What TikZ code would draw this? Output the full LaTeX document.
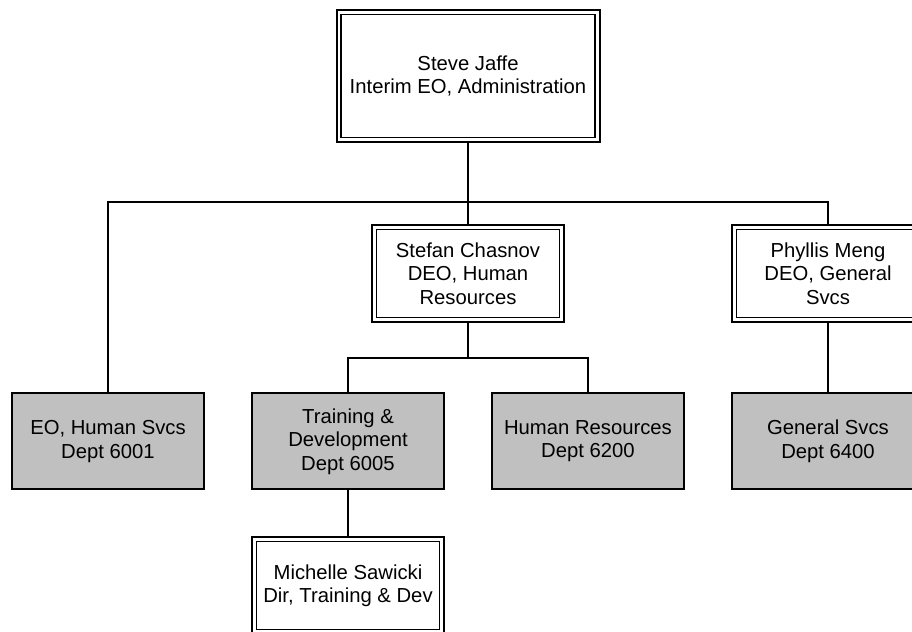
\documentclass[tikz,border=0pt]{standalone}
\usepackage{fontspec}
\setmainfont{Liberation Sans}
\usetikzlibrary{backgrounds}
\definecolor{boxgray}{HTML}{C0C0C0}
\tikzset{
  px/.style={x=0.75pt,y=-0.75pt},
  txt/.style={align=center,font=\fontsize{15.2}{17.6}\selectfont,inner sep=0pt},
  graybox/.style={txt,draw=black,fill=boxgray,line width=1.5pt,minimum width=144pt,minimum height=72pt},
  dbox/.style={txt,draw=black,fill=white,line width=1.5pt,minimum width=144pt,minimum height=72.75pt,
    path picture={\draw[line width=1pt] ([shift={(3.4pt,-3.4pt)}]path picture bounding box.north west) rectangle ([shift={(-3.4pt,3.4pt)}]path picture bounding box.south east);}},
  conn/.style={draw=black,line width=1.3pt}
}
\begin{document}
\begin{tikzpicture}[px]
\useasboundingbox (0,0) rectangle (912,631);
\node[dbox,minimum width=197.25pt,minimum height=99pt] (top) at (468,76) {Steve Jaffe\\Interim EO, Administration};
\node[dbox] (stefan) at (468,273.5) {Stefan Chasnov\\DEO, Human\\Resources};
\node[dbox] (phyllis) at (828,273.5) {Phyllis Meng\\DEO, General\\Svcs};
\node[graybox] (eo) at (108,441.3) {EO, Human Svcs\\Dept 6001};
\node[graybox] (training) at (348,441.3) {Training \&\\Development\\Dept 6005};
\node[graybox] (hr) at (588,441.3) {Human Resources\\Dept 6200};
\node[graybox] (general) at (828,441.3) {General Svcs\\Dept 6400};
\node[dbox] (michelle) at (348,585.5) {Michelle Sawicki\\Dir, Training \& Dev};
\coordinate (bus) at (468,202);
\coordinate (bus2) at (468,358);
\begin{scope}[on background layer]
\draw[conn] (top.south) -- (stefan.north);
\draw[conn] (eo.north) |- (bus) -| (phyllis.north);
\draw[conn] (stefan.south) -- (bus2);
\draw[conn] (training.north) |- (bus2) -| (hr.north);
\draw[conn] (phyllis.south) -- (general.north);
\draw[conn] (training.south) -- (michelle.north);
\end{scope}
\end{tikzpicture}
\end{document}
